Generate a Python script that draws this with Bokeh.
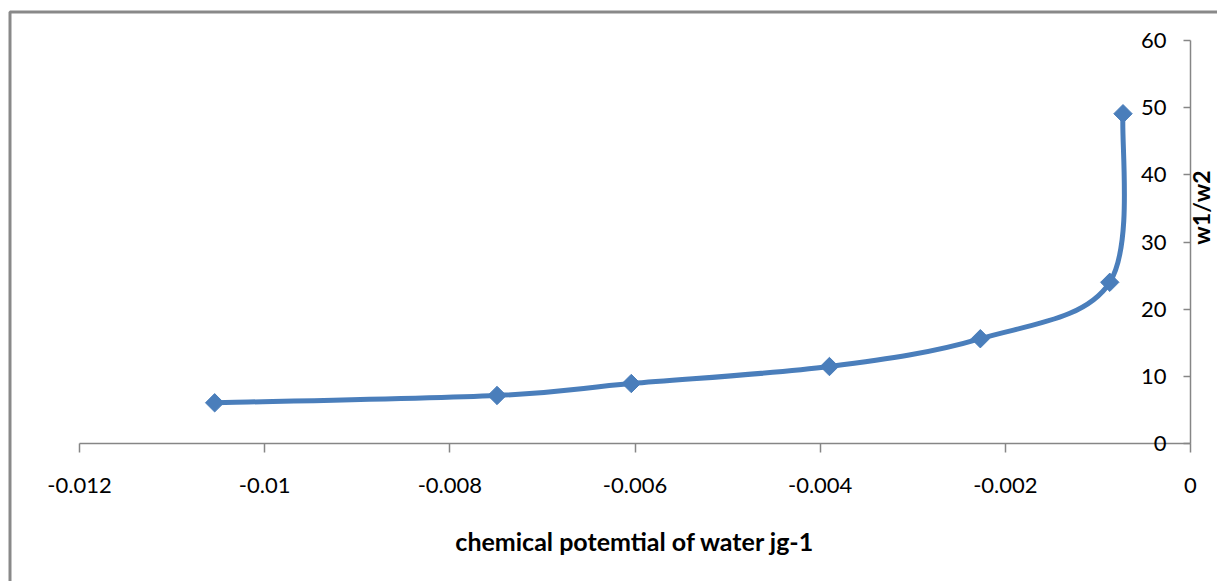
import math
from bokeh.plotting import figure
from bokeh.models import (Range1d, FixedTicker, Label, ColumnDataSource,
                          BoxAnnotation, LinearAxis)
from bokeh.embed import file_html
from bokeh.resources import INLINE

# ---- data ----
x_vals = [-0.01054, -0.00749, -0.00604, -0.00390, -0.00227, -0.000872, -0.000729]
y_vals = [6.06, 7.15, 8.93, 11.46, 15.6, 24.0, 49.1]

x_ticks = [-0.012, -0.010, -0.008, -0.006, -0.004, -0.002, 0.0]
x_tick_labels = ["-0.012", "-0.01", "-0.008", "-0.006", "-0.004", "-0.002", "0"]
y_ticks = [0, 10, 20, 30, 40, 50, 60]
y_tick_labels = ["0", "10", "20", "30", "40", "50", "60"]

x_title = "chemical potemtial of water jg-1"
y_title = "w1/w2"

BLUE = "#4A7EBB"
AXIS = "#868686"
FONT = "Lato"

# ---- layout (pixel geometry of the axes inside a full-canvas frame) ----
W, H = 1217, 581
AX_LEFT_PX, AX_RIGHT_PX = 79, 1190      # where x = -0.012 and x = 0 sit
AX_TOP_PX, AX_BASE_PX = 40, 443         # where y = 60 and y = 0 sit
XMIN, XMAX, YMIN, YMAX = -0.012, 0.0, 0.0, 60.0
sx = (AX_RIGHT_PX - AX_LEFT_PX) / (XMAX - XMIN)
sy = (AX_BASE_PX - AX_TOP_PX) / (YMAX - YMIN)
x_start = XMIN - AX_LEFT_PX / sx
x_end = XMAX + (W - AX_RIGHT_PX) / sx
y_end = YMAX + AX_TOP_PX / sy
y_start = YMIN - (H - AX_BASE_PX) / sy

def px_x(px):
    return XMIN + (px - AX_LEFT_PX) / sx

def px_y(py):
    return YMIN + (AX_BASE_PX - py) / sy

p = figure(width=W, height=H, output_backend="svg", toolbar_location=None,
           x_range=Range1d(x_start, x_end), y_range=Range1d(y_start, y_end),
           x_axis_location=None, y_axis_location=None,
           min_border=0, min_border_left=0, min_border_right=0,
           min_border_top=0, min_border_bottom=0)
p.grid.visible = False
p.outline_line_color = None
p.background_fill_color = "white"
p.border_fill_color = "white"

# x axis at y = 0
xa = LinearAxis(fixed_location=0.0, bounds=(XMIN, XMAX),
                ticker=FixedTicker(ticks=x_ticks),
                major_label_overrides={t: l for t, l in zip(x_ticks, x_tick_labels)})
xa.axis_line_color = AXIS
xa.axis_line_width = 1.5
xa.major_tick_line_color = AXIS
xa.major_tick_line_width = 1.5
xa.major_tick_out = 9
xa.major_tick_in = 0
xa.minor_tick_line_color = None
xa.major_label_text_font = FONT
xa.major_label_text_font_size = "22px"
xa.major_label_text_color = "black"
xa.major_label_standoff = 25
p.add_layout(xa, "below")

# y axis at x = 0, labels to its left
ya = LinearAxis(fixed_location=0.0, bounds=(YMIN, YMAX),
                ticker=FixedTicker(ticks=y_ticks),
                major_label_overrides={t: l for t, l in zip(y_ticks, y_tick_labels)})
ya.axis_line_color = AXIS
ya.axis_line_width = 1.5
ya.major_tick_line_color = AXIS
ya.major_tick_line_width = 1.5
ya.major_tick_out = 7
ya.major_tick_in = 0
ya.minor_tick_line_color = None
ya.major_label_text_font = FONT
ya.major_label_text_font_size = "22px"
ya.major_label_text_color = "black"
ya.major_label_standoff = 17
p.add_layout(ya, "left")

# smooth curve (Catmull-Rom style bezier segments through the data points)
n = len(x_vals)
def tangent(i):
    if i == 0:
        return ((x_vals[1] - x_vals[0]) / 6.0, (y_vals[1] - y_vals[0]) / 6.0)
    if i == n - 1:
        return ((x_vals[-1] - x_vals[-2]) / 6.0, (y_vals[-1] - y_vals[-2]) / 6.0)
    return ((x_vals[i + 1] - x_vals[i - 1]) / 6.0, (y_vals[i + 1] - y_vals[i - 1]) / 6.0)

bz = dict(x0=[], y0=[], x1=[], y1=[], cx0=[], cy0=[], cx1=[], cy1=[])
for i in range(n - 1):
    t0 = tangent(i)
    t1 = tangent(i + 1)
    bz["x0"].append(x_vals[i]); bz["y0"].append(y_vals[i])
    bz["x1"].append(x_vals[i + 1]); bz["y1"].append(y_vals[i + 1])
    bz["cx0"].append(x_vals[i] + t0[0]); bz["cy0"].append(y_vals[i] + t0[1])
    bz["cx1"].append(x_vals[i + 1] - t1[0]); bz["cy1"].append(y_vals[i + 1] - t1[1])

p.bezier(x0="x0", y0="y0", x1="x1", y1="y1", cx0="cx0", cy0="cy0", cx1="cx1", cy1="cy1",
         source=ColumnDataSource(bz), line_color=BLUE, line_width=5, line_cap="round")

p.scatter(x_vals, y_vals, marker="square", angle=math.pi / 4, size=13,
          fill_color=BLUE, line_color=BLUE)

# titles
p.add_layout(Label(x=(XMIN + XMAX) / 2, y=px_y(540), text=x_title,
                   text_align="center", text_baseline="middle", text_font=FONT,
                   text_font_style="bold", text_font_size="25px", text_color="black"))
p.add_layout(Label(x=px_x(1200), y=px_y(207), text=y_title,
                   angle=math.pi / 2, text_align="center", text_baseline="middle",
                   text_font=FONT, text_font_style="bold", text_font_size="23px",
                   text_color="black"))

# chart-area border (left and top edges visible)
p.add_layout(BoxAnnotation(left=px_x(9.5), top=px_y(11.5), right=px_x(1400), bottom=px_y(900),
                           fill_alpha=0, fill_color=None, line_color="#898989",
                           line_alpha=1.0, line_dash="solid", line_width=3))

open("out.html", "w").write(file_html(p, INLINE))
